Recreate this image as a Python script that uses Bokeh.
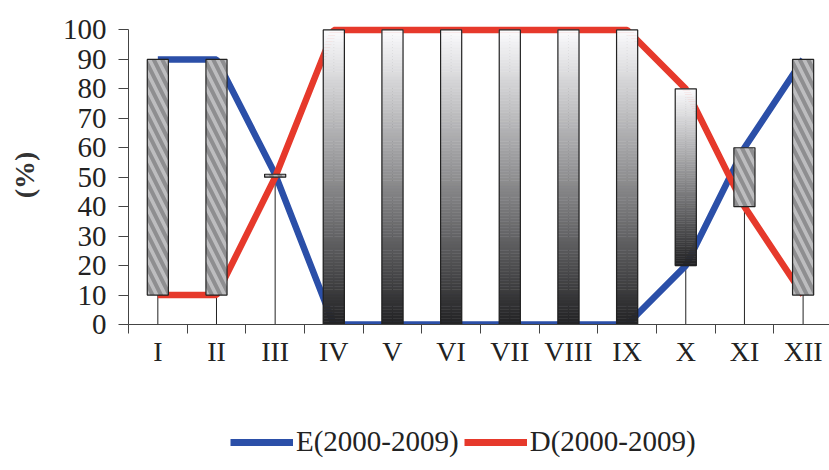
from bokeh.plotting import figure
from bokeh.models import FixedTicker, Legend, LegendItem
from bokeh.layouts import column
from bokeh.embed import file_html
from bokeh.resources import INLINE

months = ["I", "II", "III", "IV", "V", "VI", "VII", "VIII", "IX", "X", "XI", "XII"]
e_vals = [90, 90, 51, 0, 0, 0, 0, 0, 0, 20, 60, 90]
d_vals = [10, 10, 50, 100, 100, 100, 100, 100, 100, 80, 40, 10]
y_ticks = [0, 10, 20, 30, 40, 50, 60, 70, 80, 90, 100]
e_name = "E(2000-2009)"
d_name = "D(2000-2009)"

BLUE = "#2b4fa8"
RED = "#e6392b"
FONT = "Liberation Serif"

xs = list(range(1, len(months) + 1))

p = figure(width=829, height=380, output_backend="svg", toolbar_location=None,
           x_range=(0.5, 12.45), y_range=(0, 101.5),
           min_border_left=128, min_border_right=0, min_border_top=25,
           min_border_bottom=56)
p.outline_line_color = None
p.xgrid.visible = False
p.ygrid.visible = False

# drop lines
p.segment(x0=xs, y0=[0] * len(xs), x1=xs, y1=[max(a, b) for a, b in zip(e_vals, d_vals)],
          line_color="#222222", line_width=1)

# series lines
le = p.line(xs, e_vals, line_color=BLUE, line_width=6.5)
ld = p.line(xs, d_vals, line_color=RED, line_width=6.5)

hw = 0.18
hl, hr, ht, hb = [], [], [], []
gl, gr, gt, gb, gc = [], [], [], [], []
ol, orr, ot, ob = [], [], [], []
n = 100
top_c = (250, 250, 252)
bot_c = (36, 36, 38)
for x, e, d in zip(xs, e_vals, d_vals):
    if e >= d:
        hl.append(x - hw); hr.append(x + hw); ht.append(e); hb.append(d)
    else:
        ol.append(x - hw); orr.append(x + hw); ot.append(d); ob.append(e)
        step = (d - e) / n
        for i in range(n):
            t = i / (n - 1)
            c = tuple(int(round(top_c[k] + (bot_c[k] - top_c[k]) * t)) for k in range(3))
            gl.append(x - hw); gr.append(x + hw)
            gt.append(d - i * step); gb.append(d - (i + 1) * step)
            gc.append("#%02x%02x%02x" % c)

p.quad(left=gl, right=gr, top=gt, bottom=gb, fill_color=gc, line_color=gc, line_width=0.5)
p.quad(left=ol, right=orr, top=ot, bottom=ob, fill_color=None, line_color="#222222", line_width=1.2)
p.quad(left=hl, right=hr, top=ht, bottom=hb, fill_color="#bdbdbf", line_color="#222222",
       line_width=1.2, hatch_pattern="\\", hatch_color="#8e8e90", hatch_weight=4, hatch_scale=17)

# axes
p.xaxis.ticker = FixedTicker(ticks=xs, minor_ticks=[x - 0.5 for x in xs] + [xs[-1] + 0.5])
p.xaxis.major_label_overrides = {x: m for x, m in zip(xs, months)}
p.xaxis.major_tick_out = 0
p.xaxis.major_tick_in = 0
p.xaxis.minor_tick_out = 9
p.xaxis.minor_tick_in = 0
p.xaxis.minor_tick_line_color = "#444444"
p.xaxis.axis_line_color = "#444444"
p.xaxis.major_label_standoff = 2
p.xaxis.major_label_text_font = FONT
p.xaxis.major_label_text_font_size = "28px"
p.xaxis.major_label_text_color = "#222222"

p.yaxis.ticker = FixedTicker(ticks=y_ticks, minor_ticks=[])
p.yaxis.bounds = (0, 100)
p.yaxis.major_tick_out = 10
p.yaxis.major_tick_in = 0
p.yaxis.major_tick_line_color = "#444444"
p.yaxis.axis_line_color = "#444444"
p.yaxis.major_label_standoff = 12
p.yaxis.major_label_text_font = FONT
p.yaxis.major_label_text_font_size = "29px"
p.yaxis.major_label_text_color = "#222222"
p.yaxis.axis_label = "(%)"
p.yaxis.axis_label_text_font = FONT
p.yaxis.axis_label_text_font_size = "28px"
p.yaxis.axis_label_text_font_style = "bold"
p.yaxis.axis_label_text_color = "#333333"
p.yaxis.axis_label_standoff = 20

# legend in its own strip below the chart (frame aligned with the chart's frame)
q = figure(width=829, height=90, output_backend="svg", toolbar_location=None,
           x_range=(0, 1), y_range=(0, 1), min_border_left=128, min_border_right=0,
           min_border_top=0, min_border_bottom=0)
q.outline_line_color = None
q.xaxis.visible = False
q.yaxis.visible = False
q.xgrid.visible = False
q.ygrid.visible = False
qe = q.line(x=[-5, -4], y=[-5, -4], line_color=BLUE, line_width=7)
qd = q.line(x=[-5, -4], y=[-5, -4], line_color=RED, line_width=7)
legend = Legend(items=[LegendItem(label=e_name, renderers=[qe]),
                       LegendItem(label=d_name, renderers=[qd])],
                orientation="horizontal", location=(102, 12),
                label_text_font=FONT, label_text_font_size="29px", label_text_color="#222222",
                glyph_width=63, glyph_height=20, label_standoff=3, spacing=5,
                border_line_color=None, background_fill_alpha=0, margin=0, padding=0)
q.add_layout(legend, "center")

open("out.html", "w").write(file_html(column(p, q, spacing=0), INLINE))
